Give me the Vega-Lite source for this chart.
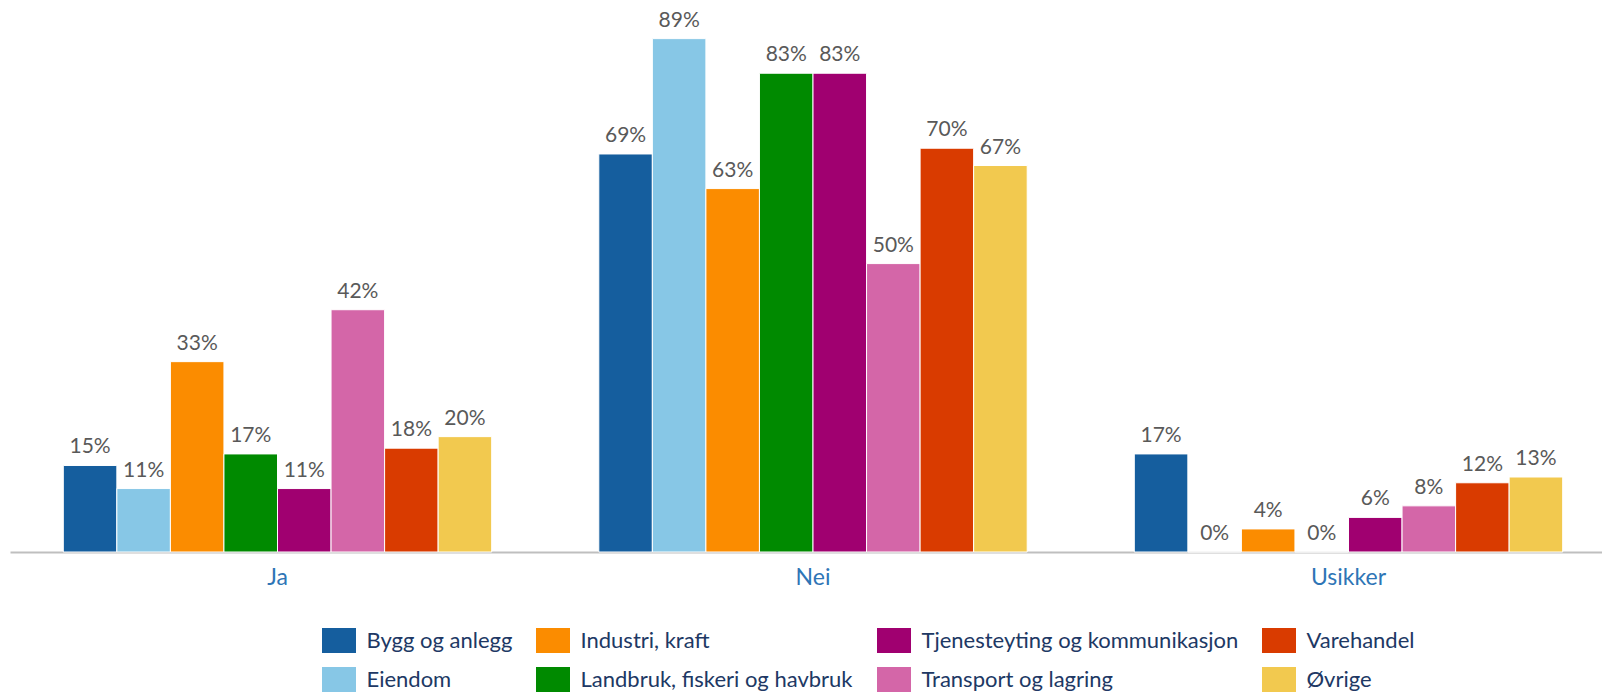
{
  "$schema": "https://vega.github.io/schema/vega-lite/v6.json",
  "width": 1592,
  "height": 548,
  "padding": {"left": 10, "top": 4, "right": 0, "bottom": 0},
  "autosize": {"type": "pad"},
  "config": {"view": {"stroke": null}, "font": "Lato"},
  "data": {
    "values": [
      {"svar": "Ja", "bransje": "Bygg og anlegg", "andel": 0.15},
      {"svar": "Ja", "bransje": "Eiendom", "andel": 0.11},
      {"svar": "Ja", "bransje": "Industri, kraft", "andel": 0.33},
      {"svar": "Ja", "bransje": "Landbruk, fiskeri og havbruk", "andel": 0.17},
      {"svar": "Ja", "bransje": "Tjenesteyting og kommunikasjon", "andel": 0.11},
      {"svar": "Ja", "bransje": "Transport og lagring", "andel": 0.42},
      {"svar": "Ja", "bransje": "Varehandel", "andel": 0.18},
      {"svar": "Ja", "bransje": "Øvrige", "andel": 0.20},
      {"svar": "Nei", "bransje": "Bygg og anlegg", "andel": 0.69},
      {"svar": "Nei", "bransje": "Eiendom", "andel": 0.89},
      {"svar": "Nei", "bransje": "Industri, kraft", "andel": 0.63},
      {"svar": "Nei", "bransje": "Landbruk, fiskeri og havbruk", "andel": 0.83},
      {"svar": "Nei", "bransje": "Tjenesteyting og kommunikasjon", "andel": 0.83},
      {"svar": "Nei", "bransje": "Transport og lagring", "andel": 0.50},
      {"svar": "Nei", "bransje": "Varehandel", "andel": 0.70},
      {"svar": "Nei", "bransje": "Øvrige", "andel": 0.67},
      {"svar": "Usikker", "bransje": "Bygg og anlegg", "andel": 0.17},
      {"svar": "Usikker", "bransje": "Eiendom", "andel": 0.0},
      {"svar": "Usikker", "bransje": "Industri, kraft", "andel": 0.04},
      {"svar": "Usikker", "bransje": "Landbruk, fiskeri og havbruk", "andel": 0.0},
      {"svar": "Usikker", "bransje": "Tjenesteyting og kommunikasjon", "andel": 0.06},
      {"svar": "Usikker", "bransje": "Transport og lagring", "andel": 0.08},
      {"svar": "Usikker", "bransje": "Varehandel", "andel": 0.12},
      {"svar": "Usikker", "bransje": "Øvrige", "andel": 0.13}
    ]
  },
  "encoding": {
    "x": {
      "field": "svar",
      "type": "nominal",
      "sort": ["Ja", "Nei", "Usikker"],
      "scale": {"paddingInner": 0.2, "paddingOuter": 0.08646, "align": 0.5756},
      "axis": {
        "title": null,
        "labelAngle": 0,
        "ticks": false,
        "tickSize": 0,
        "domainColor": "#BFBFBF",
        "domainWidth": 2,
        "labelBaseline": "alphabetic",
        "labelPadding": 32,
        "labelFontSize": 23,
        "labelColor": "#2E75B6",
        "labelFont": "Lato",
        "grid": false
      }
    },
    "xOffset": {
      "field": "bransje",
      "type": "nominal",
      "sort": ["Bygg og anlegg", "Eiendom", "Industri, kraft", "Landbruk, fiskeri og havbruk", "Tjenesteyting og kommunikasjon", "Transport og lagring", "Varehandel", "Øvrige"],
      "scale": {"paddingInner": 0, "paddingOuter": 0}
    },
    "y": {
      "field": "andel",
      "type": "quantitative",
      "scale": {"domain": [0, 0.95]},
      "axis": null
    }
  },
  "layer": [
    {
      "mark": {"type": "bar", "stroke": "white", "strokeWidth": 1},
      "encoding": {
        "color": {
          "field": "bransje",
          "type": "nominal",
          "scale": {
            "domain": ["Bygg og anlegg", "Industri, kraft", "Tjenesteyting og kommunikasjon", "Varehandel", "Eiendom", "Landbruk, fiskeri og havbruk", "Transport og lagring", "Øvrige"],
            "range": ["#155E9E", "#FB8C00", "#A00070", "#D93B00", "#87C7E6", "#008A00", "#D466A8", "#F2C94F"]
          },
          "legend": {
            "title": null,
            "orient": "none",
            "legendX": 316.5,
            "legendY": 624,
            "columns": 4,
            "direction": "horizontal",
            "padding": 0,
            "symbolType": "M-1.36,-1H1.36V1H-1.36Z",
            "symbolSize": 625,
            "symbolStrokeWidth": 0,
            "symbolOpacity": 1,
            "labelFont": "Lato",
            "labelFontSize": 22,
            "labelColor": "#203864",
            "labelLimit": 500,
            "labelOffset": 15,
            "columnPadding": 23,
            "rowPadding": 14
          }
        }
      }
    },
    {
      "mark": {"type": "text", "baseline": "alphabetic", "dy": -12, "fontSize": 21, "color": "#595959", "font": "Lato"},
      "encoding": {
        "text": {"field": "andel", "type": "quantitative", "format": ".0%"}
      }
    }
  ]
}
